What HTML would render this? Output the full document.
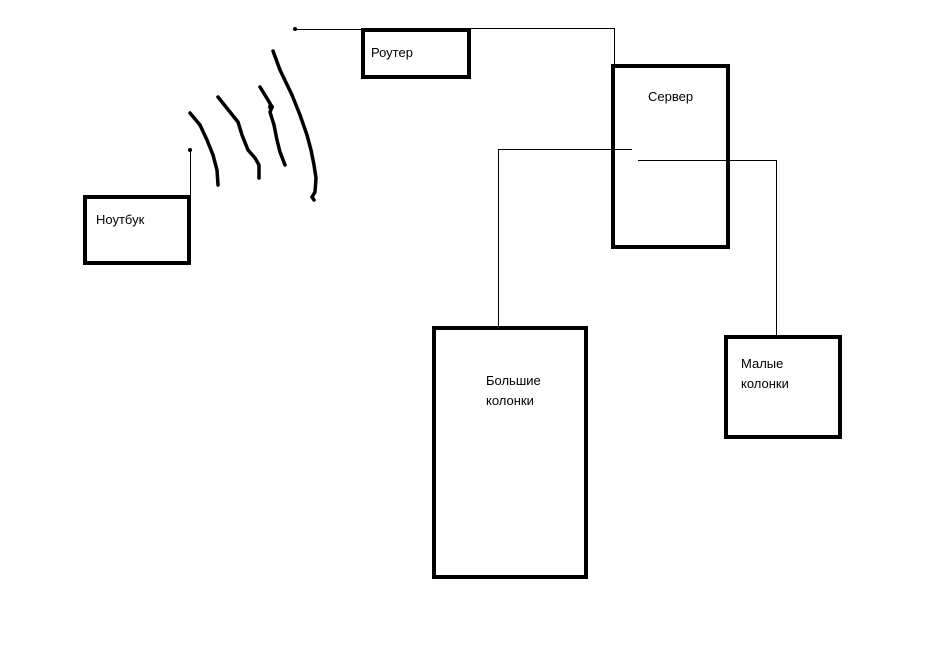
<!DOCTYPE html>
<html><head><meta charset="utf-8"><style>
html,body{margin:0;padding:0;background:#fff}
svg{display:block}
text{font-family:"Liberation Sans",sans-serif;font-size:13px;fill:#000}
</style></head><body>
<svg width="935" height="656" viewBox="0 0 935 656">
<g fill="none" stroke="#000" stroke-width="4">
<rect x="85" y="197" width="104" height="66"/>
<rect x="363" y="30" width="106" height="47"/>
<rect x="613" y="66" width="115" height="181"/>
<rect x="434" y="328" width="152" height="249"/>
<rect x="726" y="337" width="114" height="100"/>
</g>
<g fill="none" stroke="#000" stroke-width="1" shape-rendering="crispEdges">
<polyline points="295,29.5 363,29.5"/>
<polyline points="469,28.5 614.5,28.5 614.5,66"/>
<polyline points="190.5,150 190.5,197"/>
<polyline points="498.5,326 498.5,149.5 632,149.5"/>
<polyline points="638,160.5 776.5,160.5 776.5,337"/>
</g>
<circle cx="295" cy="29" r="2"/><circle cx="190" cy="150" r="2"/>
<g fill="none" stroke="#000" stroke-width="3.5" stroke-linecap="round" stroke-linejoin="round">
<polyline points="190,113 200,125 207,140 213,155 217,170 218,185"/>
<polyline points="218,97 230,112 238,122 242,135 248,150 255,158 259,165 259,178"/>
<polyline points="260,87 268,100 272,107 270,112 274,125 277,140 280,152 285,165"/>
<polyline points="273,51 280,70 292,95 300,115 307,135 311,150 314,165 316,178 315,192 312,197 314,200"/>
</g>
<circle cx="271" cy="107" r="3"/>
<text x="96" y="224">Ноутбук</text>
<text x="371" y="57">Роутер</text>
<text x="648" y="101">Сервер</text>
<text x="486" y="385">Большие</text>
<text x="486" y="405">колонки</text>
<text x="741" y="368">Малые</text>
<text x="741" y="388">колонки</text>
</svg>
</body></html>
